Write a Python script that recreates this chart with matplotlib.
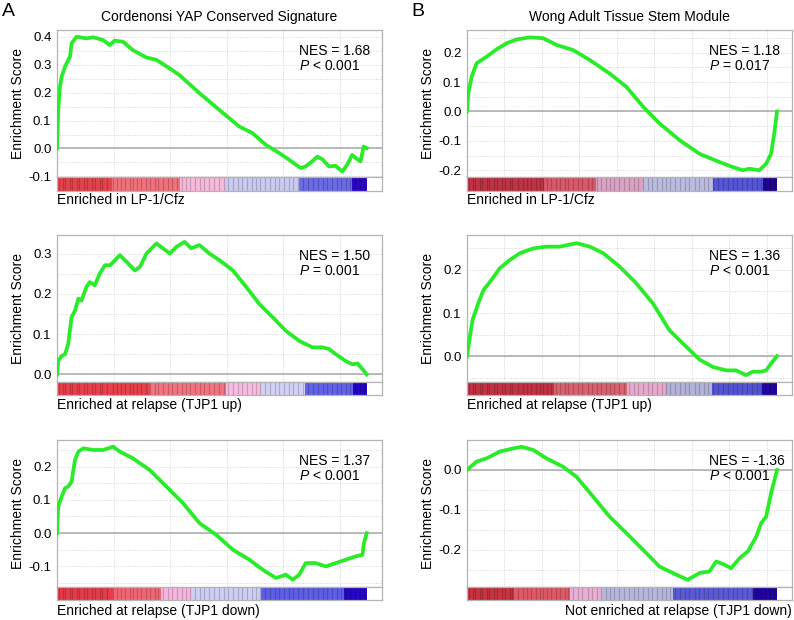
import matplotlib
matplotlib.use("Agg")
import matplotlib.pyplot as plt
from matplotlib.colors import to_rgb
from matplotlib.ticker import MultipleLocator, NullFormatter

plt.rcParams["font.family"] = ["Liberation Sans", "DejaVu Sans"]
plt.rcParams["mathtext.fontset"] = "custom"
plt.rcParams["mathtext.it"] = "Liberation Sans:italic"
plt.rcParams["mathtext.rm"] = "Liberation Sans"

# ---- running enrichment scores (gene rank, ES) ----
cordenonsi_lp1_rank = [0, 110, 260, 410, 710, 1150, 1290, 1730, 2600, 3210, 4080, 4660, 5100,
                       5840, 6710, 7890, 8800, 9950, 10820, 12600, 14360, 16110, 17290, 18470,
                       19650, 20520, 21560, 22000, 22580, 23020, 23450, 24060, 24630, 25240,
                       25670, 26110, 26410, 26850, 27130, 27400]
cordenonsi_lp1_es = [0.0, 0.138, 0.22, 0.257, 0.293, 0.329, 0.376, 0.40, 0.394, 0.398, 0.388,
                     0.37, 0.386, 0.382, 0.352, 0.326, 0.317, 0.287, 0.263, 0.198, 0.138, 0.079,
                     0.055, 0.013, -0.016, -0.04, -0.07, -0.064, -0.046, -0.029, -0.038, -0.064,
                     -0.062, -0.082, -0.058, -0.023, -0.034, -0.046, 0.007, 0.001]

cordenonsi_up_rank = [0, 110, 410, 710, 990, 1290, 1590, 1890, 2160, 2600, 2900, 3340, 3780,
                      4250, 4690, 5120, 5560, 6170, 6880, 7340, 7920, 8800, 9370, 9970, 10580,
                      11290, 11860, 12600, 13480, 14390, 15560, 16740, 17890, 19070, 20250,
                      21430, 22610, 23480, 24060, 24660, 25540, 26140, 26580, 27020, 27400]
cordenonsi_up_es = [0.0, 0.033, 0.046, 0.05, 0.075, 0.142, 0.158, 0.188, 0.183, 0.217, 0.229,
                    0.221, 0.25, 0.271, 0.271, 0.283, 0.296, 0.279, 0.258, 0.267, 0.3, 0.325,
                    0.313, 0.3, 0.317, 0.329, 0.313, 0.321, 0.3, 0.283, 0.258, 0.217, 0.175,
                    0.142, 0.108, 0.083, 0.067, 0.067, 0.063, 0.05, 0.033, 0.025, 0.027, 0.013,
                    0.0]

cordenonsi_down_rank = [0, 110, 410, 710, 990, 1290, 1590, 1890, 2330, 3210, 4080, 4960, 5560,
                        6710, 8190, 9670, 11150, 12600, 14080, 15560, 17020, 18190, 19370,
                        20250, 20850, 21430, 22000, 22880, 23780, 24660, 25540, 26410, 27020,
                        27150, 27400]
cordenonsi_down_es = [0.0, 0.08, 0.11, 0.135, 0.14, 0.155, 0.22, 0.245, 0.255, 0.25, 0.25, 0.26,
                      0.245, 0.225, 0.19, 0.14, 0.09, 0.03, -0.005, -0.05, -0.08, -0.11, -0.135,
                      -0.125, -0.14, -0.125, -0.09, -0.09, -0.1, -0.09, -0.08, -0.07, -0.065,
                      -0.03, 0.0]

wong_lp1_rank = [0, 170, 620, 1280, 2610, 3930, 5290, 6620, 8390, 10170, 11950, 14140, 16370,
                 19020, 21250, 23490, 25680, 28370, 31010, 33660, 35440, 36760, 37670, 38990,
                 39900, 40560, 40980, 41350]
wong_lp1_es = [0.0, 0.061, 0.118, 0.164, 0.186, 0.211, 0.232, 0.245, 0.252, 0.249, 0.226, 0.209,
               0.175, 0.129, 0.084, 0.016, -0.041, -0.098, -0.144, -0.172, -0.189, -0.2,
               -0.195, -0.2, -0.178, -0.144, -0.075, 0.0]

wong_up_rank = [0, 310, 740, 1490, 2190, 3270, 4380, 5710, 7070, 8850, 10590, 12360, 14600,
                16370, 18150, 20340, 22580, 24810, 27000, 29230, 31010, 32790, 34570, 35890,
                37220, 38130, 39200, 39900, 40560, 41350]
wong_up_es = [0.0, 0.037, 0.084, 0.122, 0.153, 0.177, 0.204, 0.223, 0.239, 0.25, 0.254, 0.254,
              0.262, 0.254, 0.239, 0.208, 0.169, 0.122, 0.06, 0.022, -0.008, -0.025, -0.033,
              -0.033, -0.044, -0.036, -0.036, -0.033, -0.017, 0.0]

wong_down_rank = [0, 1280, 2610, 4380, 6160, 7280, 8850, 10590, 12820, 14600, 16830, 19020,
                  21250, 23490, 25680, 27910, 29440, 31010, 32340, 33250, 34320, 35230, 36350,
                  37460, 38580, 39240, 39900, 40560, 41350]
wong_down_es = [0.0, 0.021, 0.029, 0.046, 0.054, 0.058, 0.05, 0.029, 0.008, -0.017, -0.067,
                -0.117, -0.158, -0.2, -0.242, -0.262, -0.275, -0.258, -0.254, -0.229, -0.237,
                -0.246, -0.221, -0.204, -0.167, -0.133, -0.117, -0.058, 0.0]

# ranked-list heat bars: segment edges (fraction of list) and colours
cordenonsi_lp1_bar_edges = [0, 0.176, 0.396, 0.546, 0.782, 0.954, 1.0]
cordenonsi_lp1_bar_colors = ["#e4434d", "#f0717b", "#f6bada", "#cbcbf2", "#6b6be6", "#2b06c4"]
cordenonsi_up_bar_edges = [0, 0.30, 0.546, 0.66, 0.80, 0.955, 1.0]
cordenonsi_up_bar_colors = ["#ea3f4c", "#f27482", "#f7bde3", "#d2d2f5", "#6262ea", "#2404c6"]
cordenonsi_down_bar_edges = [0, 0.18, 0.337, 0.433, 0.659, 0.927, 1.0]
cordenonsi_down_bar_colors = ["#e53c48", "#f06874", "#f6b6e0", "#cfcff4", "#5e5ee6", "#2606c6"]
wong_lp1_bar_edges = [0, 0.247, 0.417, 0.568, 0.793, 0.954, 1.0]
wong_lp1_bar_colors = ["#bf3444", "#d9596a", "#dba3c3", "#bcbce0", "#5656d6", "#22048f"]
wong_up_bar_edges = [0, 0.28, 0.515, 0.638, 0.79, 0.95, 1.0]
wong_up_bar_colors = ["#c23243", "#d9626f", "#e9a9cd", "#b3b3da", "#5454d2", "#2204a2"]
wong_down_bar_edges = [0, 0.15, 0.332, 0.433, 0.664, 0.921, 1.0]
wong_down_bar_colors = ["#c83440", "#e05a66", "#eab0d4", "#b8b8de", "#5a5ad6", "#22049e"]

stripe_positions = [0.008, 0.019, 0.027, 0.041, 0.049, 0.063, 0.071, 0.088, 0.097, 0.112,
                    0.124, 0.139, 0.146, 0.163, 0.181, 0.193, 0.208, 0.221, 0.236, 0.244,
                    0.259, 0.272, 0.288, 0.301, 0.317, 0.326, 0.343, 0.358, 0.371, 0.389,
                    0.402, 0.418, 0.431, 0.447, 0.462, 0.474, 0.491, 0.507, 0.522, 0.538,
                    0.551, 0.569, 0.583, 0.597, 0.612, 0.628, 0.641, 0.656, 0.672, 0.687,
                    0.703, 0.716, 0.734, 0.748, 0.763, 0.779, 0.794, 0.811, 0.826, 0.842,
                    0.858, 0.871, 0.887, 0.903, 0.918, 0.934, 0.947, 0.962, 0.978, 0.991]

titles = ["Cordenonsi YAP Conserved Signature", "Wong Adult Tissue Stem Module"]
nes_labels = [["NES = 1.68", "NES = 1.50", "NES = 1.37"],
              ["NES = 1.18", "NES = 1.36", "NES = -1.36"]]
p_labels = [["< 0.001", "= 0.001", "< 0.001"],
            ["= 0.017", "< 0.001", "< 0.001"]]
bar_labels = [["Enriched in LP-1/Cfz", "Enriched at relapse (TJP1 up)",
               "Enriched at relapse (TJP1 down)"],
              ["Enriched in LP-1/Cfz", "Enriched at relapse (TJP1 up)",
               "Not enriched at relapse (TJP1 down)"]]

GREEN = "#28ec28"
FRAME = "#b4b4b4"
W, H = 794, 620


def px_axes(fig, left, top, width, height):
    return fig.add_axes([left / W, 1 - (top + height) / H, width / W, height / H])


def draw_es(ax, rank, es, xmax, ylim, yticks, nes, pval):
    ax.plot(rank, es, color=GREEN, lw=2.7, solid_joinstyle="round", zorder=3)
    ax.axhline(0, color="#a8a8a8", lw=1.1, zorder=2)
    ax.set_xlim(0, xmax)
    ax.set_ylim(*ylim)
    ax.set_yticks(yticks)
    ax.set_yticklabels([f"{t:.1f}" for t in yticks])
    ax.xaxis.set_major_locator(MultipleLocator(5000))
    ax.xaxis.set_major_formatter(NullFormatter())
    ax.yaxis.set_minor_locator(MultipleLocator(0.05))
    ax.grid(which="both", color="#d4d4d4", ls=(0, (1, 1.5)), lw=0.7)
    ax.set_axisbelow(True)
    ax.tick_params(which="both", length=0, labelsize=9.5, pad=4)
    for s in ax.spines.values():
        s.set_color(FRAME)
        s.set_linewidth(0.9)
    ax.set_ylabel("Enrichment Score", fontsize=10)
    ax.yaxis.set_label_coords(-0.098, 0.5)
    ax.text(0.746, 0.86, nes, transform=ax.transAxes, fontsize=10, va="center")
    ax.text(0.746, 0.755, "$\\it{P}$ " + pval, transform=ax.transAxes, fontsize=10,
            va="center")


def draw_bar(ax, edges, colors, n_genes, xmax):
    for i, c in enumerate(colors):
        ax.axvspan(edges[i] * n_genes, edges[i + 1] * n_genes, color=c, lw=0)
        dark = tuple(v * 0.78 for v in to_rgb(c))
        for s in stripe_positions:
            if edges[i] <= s < edges[i + 1]:
                ax.axvline(s * n_genes, color=dark, lw=0.9, alpha=0.85)
    ax.set_xlim(0, xmax)
    ax.set_ylim(0, 1)
    ax.set_xticks([])
    ax.set_yticks([])
    for s in ax.spines.values():
        s.set_color(FRAME)
        s.set_linewidth(0.9)


fig = plt.figure(figsize=(W / 100, H / 100), dpi=100)

cols = [
    dict(left=57, n=27400, xmax=28750,
         panels=[(cordenonsi_lp1_rank, cordenonsi_lp1_es, (-0.102, 0.424),
                  [-0.1, 0.0, 0.1, 0.2, 0.3, 0.4],
                  cordenonsi_lp1_bar_edges, cordenonsi_lp1_bar_colors),
                 (cordenonsi_up_rank, cordenonsi_up_es, (-0.019, 0.346),
                  [0.0, 0.1, 0.2, 0.3],
                  cordenonsi_up_bar_edges, cordenonsi_up_bar_colors),
                 (cordenonsi_down_rank, cordenonsi_down_es, (-0.162, 0.28),
                  [-0.1, 0.0, 0.1, 0.2],
                  cordenonsi_down_bar_edges, cordenonsi_down_bar_colors)]),
    dict(left=467, n=41350, xmax=43350,
         panels=[(wong_lp1_rank, wong_lp1_es, (-0.223, 0.277),
                  [-0.2, -0.1, 0.0, 0.1, 0.2],
                  wong_lp1_bar_edges, wong_lp1_bar_colors),
                 (wong_up_rank, wong_up_es, (-0.06, 0.281),
                  [0.0, 0.1, 0.2],
                  wong_up_bar_edges, wong_up_bar_colors),
                 (wong_down_rank, wong_down_es, (-0.293, 0.075),
                  [-0.2, -0.1, 0.0],
                  wong_down_bar_edges, wong_down_bar_colors)]),
]
rows = [(30, 147, 14, 200), (235, 147, 13, 405), (440, 147, 13, 611)]
width = 325

for ci, col in enumerate(cols):
    for ri, (rank, es, ylim, yticks, edges, colors) in enumerate(col["panels"]):
        top, h, bh, label_y = rows[ri]
        ax = px_axes(fig, col["left"], top, width, h)
        draw_es(ax, rank, es, col["xmax"], ylim, yticks,
                nes_labels[ci][ri], p_labels[ci][ri])
        bax = px_axes(fig, col["left"], top + h, width, bh)
        draw_bar(bax, edges, colors, col["n"], col["xmax"])
        if ci == 1 and ri == 2:
            fig.text((col["left"] + width) / W, 1 - label_y / H, bar_labels[ci][ri],
                     ha="right", va="center", fontsize=10)
        else:
            fig.text(col["left"] / W, 1 - label_y / H, bar_labels[ci][ri],
                     ha="left", va="center", fontsize=10)
    fig.text((col["left"] + width / 2) / W, 1 - 17 / H, titles[ci],
             ha="center", va="center", fontsize=10)

fig.text(2 / W, 1 - 3 / H, "A", fontsize=14, va="top", ha="left")
fig.text(411 / W, 1 - 3 / H, "B", fontsize=14, va="top", ha="left")

fig.savefig("out.png", dpi=100)
